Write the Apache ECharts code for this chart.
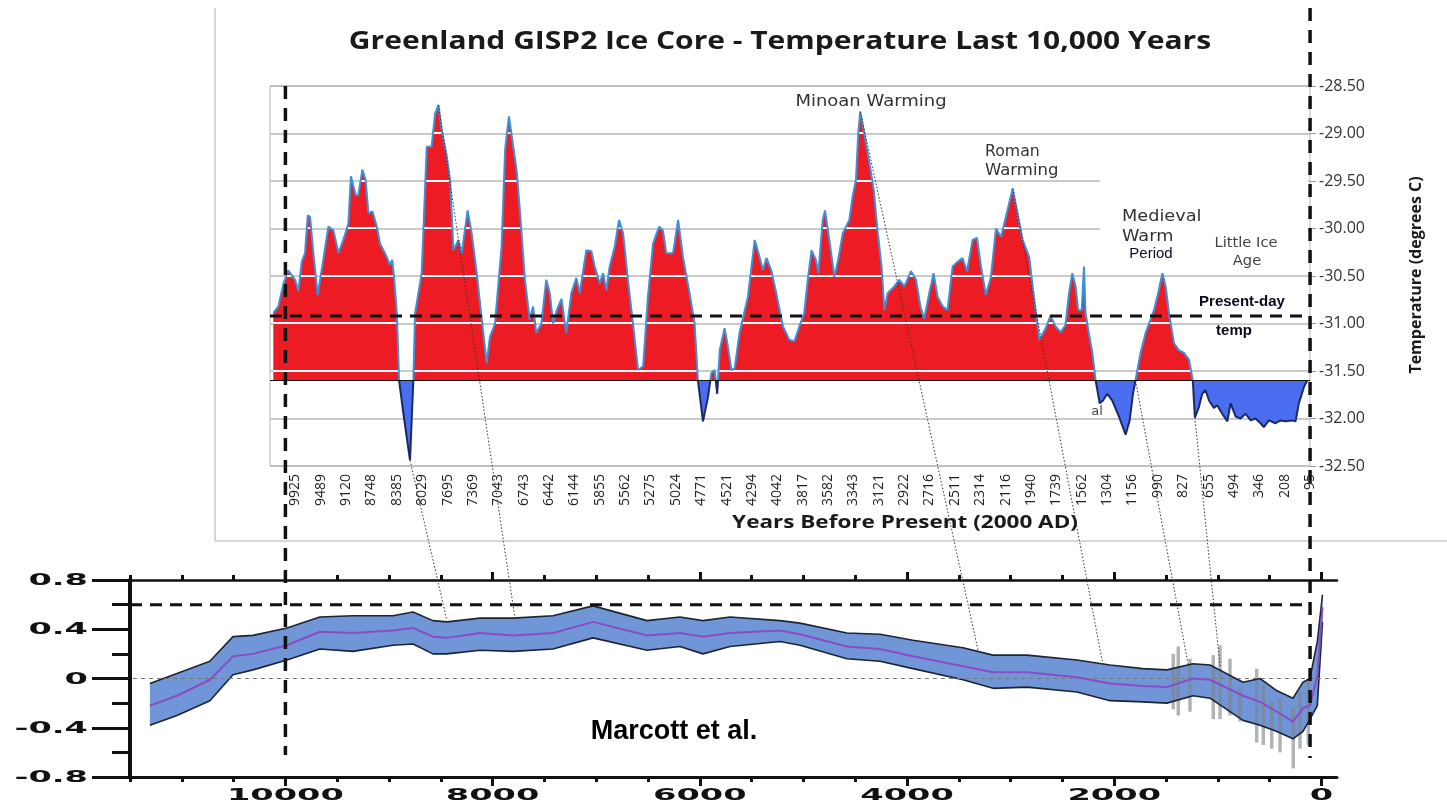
<!DOCTYPE html>
<html>
<head>
<meta charset="utf-8">
<title>GISP2 vs Marcott</title>
<script src="https://cdn.jsdelivr.net/npm/echarts@6/dist/echarts.min.js"></script>
<style>
  html, body { margin: 0; padding: 0; background: #fff; }
  #chart { width: 1447px; height: 806px; }
</style>
</head>
<body>
<div id="chart"></div>
<script>
// --- Greenland GISP2 (top panel) ---
// tick labels, years before 2000 AD, one per slot on the category-like axis
const gispTickYears = [9925, 9489, 9120, 8748, 8385, 8029, 7695, 7369, 7043, 6743,
  6442, 6144, 5855, 5562, 5275, 5024, 4771, 4521, 4294, 4042,
  3817, 3582, 3343, 3121, 2922, 2716, 2511, 2314, 2116, 1940,
  1739, 1562, 1304, 1156, 990, 827, 655, 494, 346, 208, 95];
// position of each reading, in tick-slot units (0 = 9925, 40 = 95)
const gispPos = [-0.87, -0.67, -0.47, -0.28, -0.15, -0.01, 0.12, 0.25, 0.38, 0.49,
  0.58, 0.71, 0.88, 1.10, 1.30, 1.50, 1.70, 1.89, 2.09, 2.19,
  2.38, 2.48, 2.64, 2.77, 2.88, 3.04, 3.21, 3.34, 3.53, 3.73,
  3.82, 3.90, 4.00, 4.09, 4.26, 4.52, 4.65, 4.72, 4.98, 5.18,
  5.37, 5.51, 5.64, 5.77, 5.97, 6.10, 6.23, 6.43, 6.56, 6.79,
  6.95, 7.15, 7.35, 7.54, 7.67, 7.87, 8.13, 8.27, 8.42, 8.59,
  8.72, 8.86, 9.05, 9.24, 9.37, 9.50, 9.70, 9.89, 10.03, 10.16,
  10.31, 10.49, 10.68, 10.88, 11.08, 11.21, 11.47, 11.67, 11.80, 12.00,
  12.13, 12.26, 12.39, 12.59, 12.76, 12.92, 13.11, 13.31, 13.51, 13.71,
  13.90, 14.10, 14.34, 14.49, 14.62, 14.89, 15.09, 15.28, 15.54, 15.74,
  15.87, 16.07, 16.27, 16.40, 16.53, 16.63, 16.73, 16.92, 17.05, 17.19,
  17.32, 17.51, 17.84, 18.11, 18.30, 18.43, 18.57, 18.76, 18.96, 19.22,
  19.47, 19.67, 19.87, 20.06, 20.20, 20.35, 20.52, 20.62, 20.79, 20.88,
  21.05, 21.25, 21.40, 21.58, 21.84, 21.97, 22.10, 22.19, 22.27, 22.43,
  22.63, 22.80, 22.95, 23.11, 23.22, 23.35, 23.61, 23.81, 24.01, 24.27,
  24.47, 24.64, 24.79, 24.99, 25.16, 25.32, 25.52, 25.71, 25.91, 26.11,
  26.30, 26.48, 26.70, 26.87, 27.03, 27.22, 27.42, 27.62, 27.82, 28.01,
  28.28, 28.47, 28.67, 28.93, 29.13, 29.33, 29.58, 29.77, 29.97, 30.17,
  30.36, 30.50, 30.63, 30.76, 30.86, 31.00, 31.09, 31.15, 31.28, 31.42,
  31.55, 31.71, 31.84, 32.01, 32.20, 32.47, 32.73, 32.89, 33.02, 33.12,
  33.32, 33.52, 33.85, 34.04, 34.18, 34.31, 34.44, 34.64, 34.83, 35.03,
  35.23, 35.38, 35.46, 35.62, 35.75, 35.88, 36.02, 36.21, 36.34, 36.54,
  36.74, 36.87, 37.07, 37.26, 37.46, 37.66, 37.85, 38.05, 38.18, 38.38,
  38.64, 38.84, 39.04, 39.30, 39.43, 39.56, 39.76, 39.89];
// temperature, degrees C
const gispTemp = [-30.89, -30.82, -30.58, -30.44, -30.49, -30.54, -30.66, -30.35, -30.26, -29.86,
  -29.88, -30.26, -30.70, -30.33, -29.98, -30.02, -30.26, -30.12, -29.95, -29.45,
  -29.65, -29.65, -29.38, -29.49, -29.84, -29.82, -29.98, -30.16, -30.26, -30.38,
  -30.33, -30.54, -30.89, -31.60, -31.95, -32.44, -31.60, -30.89, -30.47, -29.14,
  -29.14, -28.79, -28.70, -28.96, -29.24, -29.49, -30.23, -30.12, -30.26, -29.81,
  -30.05, -30.47, -30.96, -31.42, -31.14, -31.00, -30.19, -29.17, -28.82, -29.14,
  -29.38, -29.84, -30.54, -30.96, -30.82, -31.10, -31.00, -30.54, -30.68, -31.00,
  -30.86, -30.74, -31.10, -30.68, -30.52, -30.68, -30.23, -30.24, -30.40, -30.58,
  -30.47, -30.65, -30.40, -30.19, -29.91, -30.05, -30.54, -31.00, -31.49, -31.45,
  -30.72, -30.16, -29.98, -30.02, -30.26, -30.26, -29.91, -30.30, -30.68, -31.00,
  -31.60, -32.03, -31.77, -31.52, -31.49, -31.74, -31.28, -31.05, -31.24, -31.49,
  -31.47, -31.10, -30.72, -30.12, -30.30, -30.44, -30.31, -30.44, -30.68, -31.03,
  -31.17, -31.19, -31.03, -30.89, -30.54, -30.23, -30.33, -30.47, -29.91, -29.81,
  -30.12, -30.51, -30.33, -30.05, -29.91, -29.66, -29.49, -29.00, -28.77, -29.00,
  -29.31, -29.59, -30.02, -30.40, -30.86, -30.68, -30.61, -30.54, -30.61, -30.45,
  -30.54, -30.82, -30.95, -30.68, -30.47, -30.72, -30.82, -30.86, -30.40, -30.35,
  -30.31, -30.45, -30.12, -30.10, -30.40, -30.70, -30.51, -30.00, -30.09, -29.88,
  -29.58, -29.84, -30.12, -30.30, -30.75, -31.17, -31.05, -30.92, -31.03, -31.09,
  -31.02, -30.68, -30.47, -30.61, -30.86, -30.86, -30.40, -30.89, -31.10, -31.31,
  -31.60, -31.84, -31.81, -31.74, -31.81, -31.98, -32.17, -32.02, -31.74, -31.60,
  -31.31, -31.10, -30.86, -30.65, -30.47, -30.61, -30.89, -31.21, -31.28, -31.31,
  -31.38, -31.60, -31.99, -31.88, -31.74, -31.70, -31.81, -31.89, -31.86, -31.95,
  -32.03, -31.84, -31.98, -32.00, -31.95, -32.02, -32.00, -32.05, -32.09, -32.02,
  -32.05, -32.02, -32.03, -32.02, -32.03, -31.84, -31.67, -31.60];
const gispBase = -31.6;          // red above, blue below
const presentDayTemp = -30.92;   // dashed "present-day temp" level
const gridLevels = [-29.0, -29.5, -30.0, -30.5, -31.0, -31.5];

// --- Marcott et al. (bottom panel) ---
const marcottYears = [11308, 11047, 10729, 10506, 10313, 9985, 9667, 9348, 8962, 8769,
  8576, 8441, 8122, 7804, 7418, 7031, 6510, 6192, 5970, 5709,
  5226, 5033, 4580, 4261, 3943, 3460, 3170, 2842, 2360, 2041,
  1723, 1491, 1240, 1076, 757, 593, 429, 275, 178, 111, 40, -10];
const marcottMean = [-0.22, -0.14, -0.01, 0.18, 0.20, 0.27, 0.38, 0.37, 0.39, 0.41,
  0.34, 0.33, 0.37, 0.35, 0.37, 0.46, 0.35, 0.37, 0.34, 0.37,
  0.39, 0.36, 0.26, 0.24, 0.18, 0.10, 0.05, 0.05, 0.01, -0.04,
  -0.06, -0.07, 0.00, -0.01, -0.14, -0.19, -0.27, -0.35, -0.24, -0.22, 0.02, 0.58];
const marcottUpper = [-0.04, 0.04, 0.14, 0.34, 0.35, 0.41, 0.50, 0.51, 0.51, 0.54,
  0.47, 0.46, 0.49, 0.49, 0.51, 0.59, 0.47, 0.50, 0.47, 0.50,
  0.47, 0.45, 0.37, 0.36, 0.31, 0.25, 0.19, 0.19, 0.15, 0.11,
  0.08, 0.07, 0.12, 0.11, -0.03, 0.00, -0.10, -0.16, -0.03, 0.00, 0.30, 0.68];
const marcottLower = [-0.38, -0.30, -0.18, 0.03, 0.07, 0.15, 0.24, 0.22, 0.27, 0.28,
  0.20, 0.20, 0.23, 0.22, 0.24, 0.33, 0.23, 0.26, 0.20, 0.26,
  0.30, 0.27, 0.16, 0.14, 0.08, -0.01, -0.08, -0.07, -0.11, -0.18,
  -0.19, -0.20, -0.14, -0.16, -0.34, -0.38, -0.43, -0.49, -0.43, -0.33, -0.22, 0.46];
// grey spread of the individual reconstructions near the recent end
const spreadYears = [1430, 1382, 1269, 1044, 979, 883, 786, 625, 561, 480, 400, 272, 207, 127];
const spreadLow = [-0.25, -0.30, -0.27, -0.33, -0.33, -0.30, -0.35, -0.52, -0.54, -0.57, -0.60, -0.73, -0.57, -0.54];
const spreadHigh = [0.20, 0.26, 0.16, 0.19, 0.27, 0.16, -0.08, 0.08, -0.05, -0.19, -0.16, -0.24, -0.11, 0.00];
const marcottMajorTicks = [0, 2000, 4000, 6000, 8000, 10000];
const marcottMinorTicks = [500, 1000, 1500, 2500, 3000, 3500, 4500, 5000, 5500, 6500, 7000,
  7500, 8500, 9000, 9500, 10500, 11000, 11500];
const marcottYTicks = [0.8, 0.4, 0, -0.4, -0.8];

// dashed guides and the dotted links between the panels
const guideYears = [10000, 110];
const guideAnomaly = 0.6;
const linkGispPos = [4.52, 5.64, 22.27, 28.28, 33.12, 35.46];
const linkGispTemp = [-32.44, -28.70, -28.77, -29.58, -31.60, -31.99];
const linkYears = [8441, 7784, 3315, 2109, 1288, 979];
const linkAnomaly = [0.47, 0.49, 0.23, 0.11, 0.12, 0.10];

const chart = echarts.init(document.getElementById('chart'));

const yearAxis = (grid, pos, ticks, len, showLine) => ({
  gridIndex: grid, type: 'value', inverse: true, min: -150, max: 11500, position: pos,
  axisLine: { show: showLine, onZero: false, lineStyle: { color: '#111', width: pos === 'bottom' ? 3 : 2.5 } },
  axisTick: { show: true, customValues: ticks, length: len, lineStyle: { color: '#111', width: 3 } },
  axisLabel: { show: false },
  splitLine: { show: false }
});

chart.setOption({
  animation: false,
  backgroundColor: '#fff',
  grid: [
    { left: 270, right: 137, top: 86, bottom: 340, show: true, borderColor: '#b4b4b4', borderWidth: 1 },
    { left: 130, right: 110, top: 580, bottom: 29 },
    { left: 130, right: 110, top: 580, bottom: 29 }
  ],
  xAxis: [
    {
      gridIndex: 0, type: 'value', min: -1, max: 40, interval: 1,
      axisLine: { show: false, onZero: false }, axisTick: { show: false }, splitLine: { show: false },
      axisLabel: {
        rotate: 90, margin: 8, fontSize: 14, fontFamily: 'Open Sans', color: '#222',
        formatter: v => {
          const t = gispTickYears[Math.round(v)];
          return t === undefined ? '' : String(t);
        }
      }
    },
    yearAxis(1, 'bottom', marcottMajorTicks, 9, true),
    yearAxis(1, 'top', marcottMajorTicks, 8, true),
    yearAxis(2, 'bottom', marcottMinorTicks, 5, false),
    yearAxis(2, 'top', marcottMinorTicks, 5, false)
  ],
  yAxis: [
    {
      gridIndex: 0, type: 'value', position: 'right', min: -32.5, max: -28.5, interval: 0.5,
      axisLine: { show: false, onZero: false },
      axisTick: { show: true, length: 6, lineStyle: { color: '#999' } },
      axisLabel: { margin: 9, fontSize: 16, fontFamily: 'Open Sans', color: '#333', formatter: v => v.toFixed(2) },
      splitLine: { lineStyle: { color: '#b8b8b8', width: 1.5 } }
    },
    {
      gridIndex: 1, type: 'value', position: 'left', min: -0.8, max: 0.8, interval: 0.4,
      axisLine: { show: true, onZero: false, lineStyle: { color: '#111', width: 4 } },
      axisTick: { length: 38, lineStyle: { color: '#111', width: 3 } },
      minorTick: { show: true, splitNumber: 2, length: 18, lineStyle: { color: '#111', width: 3 } },
      axisLabel: { show: false },
      splitLine: { show: false }
    },
    { gridIndex: 2, type: 'value', min: -0.8, max: 0.8, show: false }
  ],
  series: [
    {
      id: 'gisp', type: 'line', xAxisIndex: 0, yAxisIndex: 0, z: 2,
      data: gispPos.map((p, k) => [p, gispTemp[k]]),
      showSymbol: false,
      lineStyle: { width: 2, color: '#3b90d8' },
      areaStyle: { origin: gispBase, color: '#ed1c24', opacity: 1 }
    },
    {
      id: 'band', type: 'custom', xAxisIndex: 1, yAxisIndex: 1, z: 2,
      data: [[marcottYears[0], marcottMean[0]]],
      renderItem: (params, api) => {
        const pts = [];
        marcottYears.forEach((yr, k) => pts.push(api.coord([yr, marcottUpper[k]])));
        for (let k = marcottYears.length - 1; k >= 0; k--) pts.push(api.coord([marcottYears[k], marcottLower[k]]));
        return { type: 'polygon', shape: { points: pts }, style: { fill: '#7096d8' } };
      }
    },
    {
      type: 'custom', xAxisIndex: 1, yAxisIndex: 1, z: 3,
      data: spreadYears.map((yr, k) => [yr, spreadLow[k], spreadHigh[k]]),
      encode: { x: 0, y: [1, 2] },
      renderItem: (params, api) => {
        const a = api.coord([api.value(0), api.value(1)]);
        const b = api.coord([api.value(0), api.value(2)]);
        return { type: 'line', shape: { x1: a[0], y1: a[1], x2: b[0], y2: b[1] },
          style: { stroke: 'rgba(125,130,135,0.6)', lineWidth: 3.5 } };
      }
    },
    {
      type: 'line', xAxisIndex: 1, yAxisIndex: 1, z: 4, showSymbol: false,
      data: marcottYears.map((yr, k) => [yr, marcottUpper[k]]),
      lineStyle: { color: '#1d2433', width: 1.6 }
    },
    {
      type: 'line', xAxisIndex: 1, yAxisIndex: 1, z: 4, showSymbol: false,
      data: marcottYears.map((yr, k) => [yr, marcottLower[k]]),
      lineStyle: { color: '#1d2433', width: 1.6 }
    },
    {
      type: 'line', xAxisIndex: 1, yAxisIndex: 1, z: 5, showSymbol: false,
      data: marcottYears.map((yr, k) => [yr, marcottMean[k]]),
      lineStyle: { color: '#8a4cc4', width: 2 },
      markLine: {
        silent: true, symbol: ['none', 'none'], label: { show: false },
        lineStyle: { color: '#777', width: 1, type: [4, 4] },
        data: [{ yAxis: 0 }]
      }
    }
  ]
});

// pixel helpers through the chart's own scales
const px = (grid, x, y) => chart.convertToPixel({ gridIndex: grid }, [x, y]);
const H = chart.getHeight();

// red fill with white grid lines, blue below the base line
const areaStops = [];
const bandStop = (from, to, color) => areaStops.push({ offset: from / H, color }, { offset: to / H, color });
let cur = 0;
gridLevels.forEach(level => {
  const y = px(0, 0, level)[1];
  bandStop(cur, y - 1, '#ed1c24');
  bandStop(y - 1, y + 1, '#ffffff');
  cur = y + 1;
});
const baseY = px(0, 0, gispBase)[1];
bandStop(cur, baseY, '#ed1c24');
bandStop(baseY, H, '#4b6ef0');

const lineStops = [
  { offset: 0, color: '#3b90d8' }, { offset: baseY / H, color: '#3b90d8' },
  { offset: baseY / H, color: '#1a2a62' }, { offset: 1, color: '#1a2a62' }
];

const els = [];
const txt = (text, x, y, font, fill, align, sx, extra) => els.push(Object.assign({
  type: 'text', x, y, z: 100, scaleX: sx || 1,
  style: { text, x: 0, y: 0, font, fill, align: align || 'center', verticalAlign: 'middle' }
}, extra || {}));
const seg = (x1, y1, x2, y2, stroke, lineWidth, lineDash, z) => els.push({
  type: 'line', z: z || 100, shape: { x1, y1, x2, y2 },
  style: { stroke, lineWidth, lineDash: lineDash || null }
});

// panel frame of the GISP2 picture
seg(215, 8, 215, 541, '#c8c8c8', 1.5, null, 1);
seg(215, 541, 1447, 541, '#c8c8c8', 1.5, null, 1);
// text box that hides part of two grid lines
els.push({ type: 'rect', z: 1, shape: { x: 1100, y: 140, width: 208, height: 110 }, style: { fill: '#fff' } });

txt('Greenland GISP2 Ice Core - Temperature Last 10,000 Years', 780, 42, 'bold 25px "Open Sans"', '#1a1a1a', 'center', 1.2);
txt('Years Before Present (2000 AD)', 905, 523, 'bold 18px "Open Sans"', '#1a1a1a', 'center', 1.25);
txt('Temperature (degrees C)', 1416, 275, 'bold 16px "Open Sans"', '#1a1a1a', 'center', 1, { rotation: Math.PI / 2 });

const noteFont = '15px "DejaVu Sans"';
txt('Minoan Warming', 871, 102, noteFont, '#333', 'center', 1.2);
txt('Roman', 985, 152, noteFont, '#333', 'left', 1.05);
txt('Warming', 985, 171, noteFont, '#333', 'left', 1.1);
txt('Medieval', 1122, 217, noteFont, '#333', 'left', 1.18);
txt('Warm', 1122, 237, noteFont, '#333', 'left', 1.18);
txt('Period', 1151, 254, '15px "Liberation Sans"', '#0b0b2a', 'center', 1);
txt('Little Ice', 1246, 243, '14px "DejaVu Sans"', '#444', 'center', 1.05);
txt('Age', 1247, 261, '14px "DejaVu Sans"', '#444', 'center', 1.05);
txt('Present-day', 1242, 302, 'bold 15px "Liberation Sans"', '#0a0a1e', 'center', 1);
txt('temp', 1234, 331, 'bold 15px "Liberation Sans"', '#0a0a1e', 'center', 1);
txt('al', 1097, 412, '13px "DejaVu Sans"', '#444', 'center', 1);
txt('Marcott et al.', 674, 732, 'bold 27px "Liberation Sans"', '#000', 'center', 1);

// stretched tick labels of the Marcott panel
marcottMajorTicks.forEach(yr => {
  txt(String(yr), px(1, yr, 0)[0], 796, 'bold 16px "DejaVu Sans"', '#111', 'center', 2.1);
});
marcottYTicks.forEach(v => {
  txt(String(v), 88, px(1, 0, v)[1] + 1, 'bold 16px "DejaVu Sans"', '#111', 'right', 2.1);
});

// dashed guides
const dash = [13, 9];
const topY = px(0, 0, -28.5)[1];
const leftX = px(1, guideYears[0], 0)[0];
const rightX = px(1, guideYears[1], 0)[0];
seg(leftX, topY, leftX, 755, '#111', 3.5, dash);
seg(rightX, 8, rightX, 758, '#111', 3.5, dash);
const pdY = px(0, 0, presentDayTemp)[1];
seg(px(0, -1, 0)[0], pdY, rightX, pdY, '#111', 3, [12, 8]);
const gY = px(1, 0, guideAnomaly)[1];
seg(px(1, 11500, 0)[0], gY, rightX, gY, '#111', 3, [12, 8]);
// base line of the red/blue fill
seg(px(0, -1, 0)[0], baseY, px(0, 40, 0)[0], baseY, '#111', 1.2, null, 50);

// dotted links from GISP2 events to the Marcott curve
linkGispPos.forEach((p, k) => {
  const a = px(0, p, linkGispTemp[k]);
  const b = px(1, linkYears[k], linkAnomaly[k]);
  seg(a[0], a[1], b[0], b[1], '#333', 1, [1.5, 2]);
});

chart.setOption({
  series: [{
    id: 'gisp',
    areaStyle: { color: { type: 'linear', x: 0, y: 0, x2: 0, y2: H, global: true, colorStops: areaStops } },
    lineStyle: { color: { type: 'linear', x: 0, y: 0, x2: 0, y2: H, global: true, colorStops: lineStops } }
  }],
  graphic: { elements: els }
});
</script>
</body>
</html>
